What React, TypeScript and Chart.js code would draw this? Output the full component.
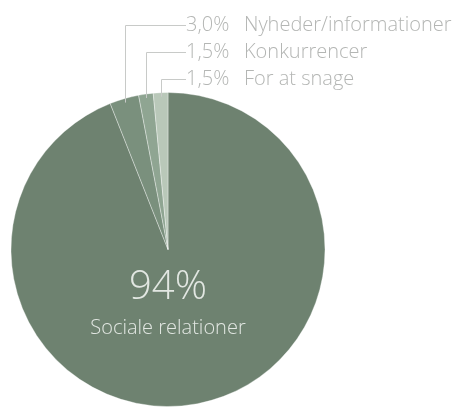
import React, { useEffect, useRef } from "react";
import { Chart, registerables } from "chart.js";

Chart.register(...registerables);

const categories = ["Sociale relationer", "Nyheder/informationer", "Konkurrencer", "For at snage"];
const values = [94, 3.0, 1.5, 1.5];
const colors = ["#6e8270", "#7a907d", "#8fa592", "#b9c8b9"];

const FONT = "'Open Sans', 'Noto Sans', sans-serif";

const labelPlugin = {
  id: "labelPlugin",
  afterDraw(chart: any) {
    const ctx = chart.ctx;
    const meta = chart.getDatasetMeta(0);
    const arcs = meta.data;
    ctx.save();
    // center label for main slice
    const a0 = arcs[0];
    ctx.fillStyle = "#e2e7e2";
    ctx.textAlign = "center";
    ctx.textBaseline = "middle";
    ctx.font = `300 40px ${FONT}`;
    ctx.fillText(`${values[0]}%`, a0.x, a0.y + 38);
    ctx.font = `300 20px ${FONT}`;
    ctx.fillText(categories[0], a0.x, a0.y + 79);

    // leader labels for small slices
    const textX = 186;
    const rowY = [25, 52, 79];
    for (let i = 1; i < arcs.length; i++) {
      const arc = arcs[i];
      const mid = (arc.startAngle + arc.endAngle) / 2;
      const px = arc.x + Math.cos(mid) * (arc.outerRadius - 4);
      const py = arc.y + Math.sin(mid) * (arc.outerRadius - 4);
      const y = rowY[i - 1];
      ctx.strokeStyle = "#c8cac8";
      ctx.lineWidth = 1;
      ctx.beginPath();
      ctx.moveTo(Math.round(px) + 0.5, py);
      ctx.lineTo(Math.round(px) + 0.5, y + 0.5);
      ctx.lineTo(textX, y + 0.5);
      ctx.stroke();
      ctx.fillStyle = "#b4b6b4";
      ctx.textAlign = "left";
      ctx.textBaseline = "middle";
      ctx.font = `300 20px ${FONT}`;
      ctx.fillText(values[i].toFixed(1).replace(".", ",") + "%", textX, y);
      ctx.fillText(categories[i], textX + 58, y);
    }
    ctx.restore();
  },
};

export default function App() {
  const ref = useRef<HTMLCanvasElement>(null);
  useEffect(() => {
    document.body.style.margin = "0";
    const chart = new Chart(ref.current!, {
      type: "pie",
      data: {
        labels: categories,
        datasets: [
          {
            data: values,
            backgroundColor: colors,
            borderColor: "rgba(255,255,255,0.35)",
            borderWidth: 1,
          },
        ],
      },
      options: {
        responsive: false,
        animation: false,
        layout: { padding: { left: 10, right: 137, top: 92, bottom: 0 } },
        plugins: { legend: { display: false }, tooltip: { enabled: false } },
      },
      plugins: [labelPlugin],
    });
    return () => chart.destroy();
  }, []);
  return (
    <div style={{ width: 463, height: 407 }}>
      <canvas ref={ref} width={463} height={407} />
    </div>
  );
}
